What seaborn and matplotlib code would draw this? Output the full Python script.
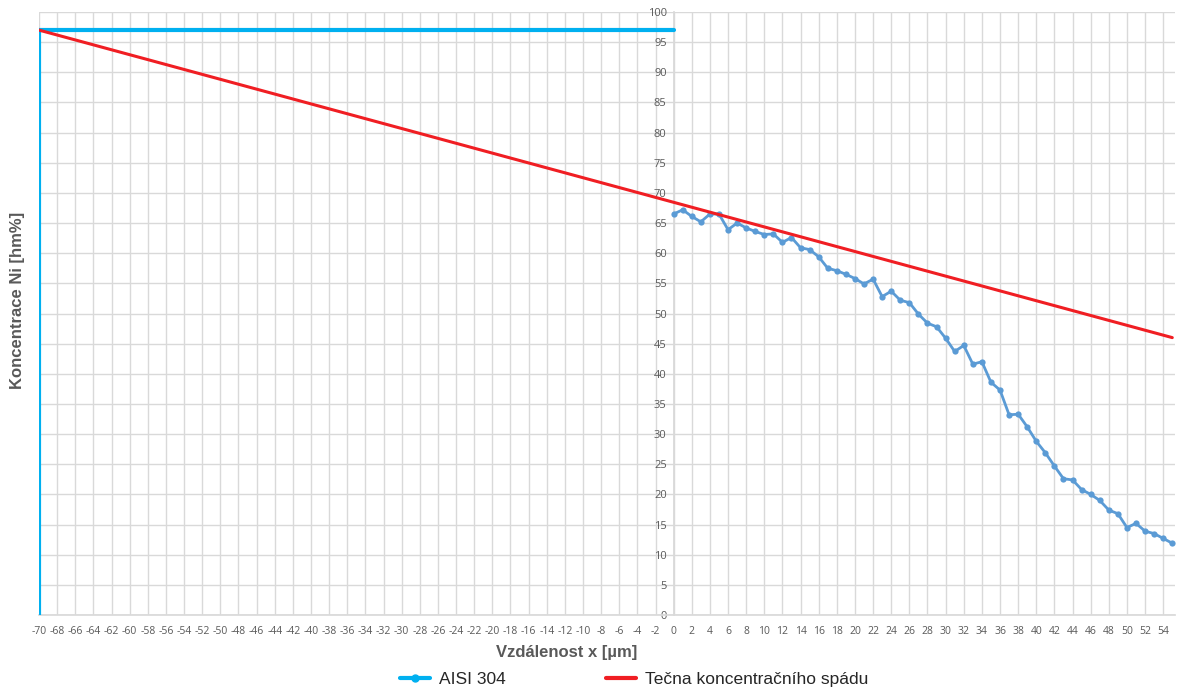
import numpy as np
import pandas as pd
import matplotlib
matplotlib.use("Agg")
import matplotlib.pyplot as plt
from matplotlib.lines import Line2D
import seaborn as sns

# ---- Data ----
distance_um = list(range(0, 56))
ni_conc = [66.5, 67.2, 66.1, 65.2, 66.5, 66.5, 63.9, 65.0, 64.2, 63.6,
           63.1, 63.2, 61.8, 62.6, 60.9, 60.6, 59.4, 57.5, 57.1, 56.5,
           55.8, 54.9, 55.7, 52.8, 53.7, 52.2, 51.8, 49.9, 48.4, 47.8,
           45.9, 43.7, 44.7, 41.6, 42.0, 38.6, 37.3, 33.2, 33.3, 31.2,
           28.8, 26.9, 24.7, 22.6, 22.4, 20.8, 20.0, 19.0, 17.4, 16.8,
           14.5, 15.2, 13.9, 13.5, 12.7, 11.9]

# surface point (cyan guide lines) and tangent line endpoints
surface_x = -70
surface_c = 97
tangent_x = [-70, 55]
tangent_c = [97, 46]

x_ticks = list(range(-70, 56, 2))
y_ticks = list(range(0, 101, 5))

df = pd.DataFrame({'x': distance_um, 'c': ni_conc})

sns.set_theme(style='white')
plt.rcParams['font.family'] = ['Open Sans', 'DejaVu Sans']
plt.rcParams['axes.unicode_minus'] = False

fig = plt.figure(figsize=(11.82, 6.93), dpi=100)
ax = fig.add_axes([39 / 1182, (693 - 615) / 693, (1175 - 39) / 1182, (615 - 12) / 693])

grid_col = '#d9d9d9'
ax.set_xlim(-70, 55.3)
ax.set_ylim(0, 100)
ax.set_xticks(x_ticks)
ax.set_yticks(y_ticks)
ax.grid(True, color=grid_col, linewidth=1.0)
ax.set_axisbelow(True)

# ---- Series ----
sns.lineplot(data=df, x='x', y='c', ax=ax, color='#5B9BD5', linewidth=2,
             marker='o', markersize=4.5, markeredgewidth=0, zorder=3)
ax.plot([surface_x, surface_x], [0, surface_c], color='#00B0F0', linewidth=3, zorder=4)
ax.plot([surface_x, 0], [surface_c, surface_c], color='#00B0F0', linewidth=3, zorder=4)
ax.plot(tangent_x, tangent_c, color='#F01E23', linewidth=2.2, zorder=5)

# ---- Axes styling ----
for s in ['top', 'right']:
    ax.spines[s].set_visible(False)
ax.spines['left'].set_position(('data', 0))
ax.spines['left'].set_color(grid_col)
ax.spines['bottom'].set_color(grid_col)
ax.tick_params(axis='x', length=0, pad=8, labelsize=7.5, labelcolor='#595959')
ax.tick_params(axis='y', length=0, pad=5, labelsize=8, labelcolor='#595959')
ax.set_xlabel('')
ax.set_ylabel('')

fig.text(567 / 1182, 1 - 652 / 693, 'Vzdálenost x [µm]', ha='center', va='center',
         fontsize=12, fontweight='bold', color='#595959', family='Liberation Sans')
fig.text(18 / 1182, 1 - 300 / 693, 'Koncentrace Ni [hm%]', ha='center', va='center',
         rotation=90, fontsize=12, fontweight='bold', color='#595959', family='Liberation Sans')

handles = [Line2D([0], [0], color='#00B0F0', linewidth=3, marker='o', markersize=5,
                  markerfacecolor='#00B0F0'),
           Line2D([0], [0], color='#F01E23', linewidth=3)]
fig.legend(handles, ['AISI 304', 'Tečna koncentračního spádu'], loc='center',
           bbox_to_anchor=(634 / 1182, 1 - 679 / 693), ncol=2, frameon=False,
           prop={'family': 'Liberation Sans', 'size': 12.5}, handlelength=1.75,
           columnspacing=5.75, handletextpad=0.5)

plt.savefig('out.png', dpi=100)
